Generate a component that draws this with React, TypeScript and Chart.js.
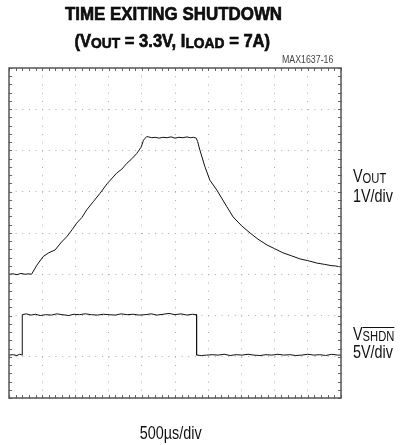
import React, { useEffect, useRef } from "react";
import { Chart, registerables } from "chart.js";

Chart.register(...registerables);

// ---- scope settings ----
const US_PER_DIV = 500;
const X_DIVS = 10;
const Y_DIVS = 8;
const VOUT_V_PER_DIV = 1;
const VOUT_OFFSET_DIV = 3;
const SHDN_V_PER_DIV = 5;
const SHDN_OFFSET_DIV = 1;

// ---- VOUT trace (time in µs, volts) ----
const voutTimeUs = [
  0, 60, 120, 180, 240, 300, 340, 420, 515, 600, 695, 790, 870, 950, 1020, 1100, 1170, 1270,
  1370, 1480, 1620, 1700, 1775, 1850, 1925, 1990, 2025, 2075, 2100, 2150, 2200, 2260, 2320,
  2380, 2440, 2500, 2560, 2620, 2680, 2730, 2780, 2820, 2840, 2875, 2950, 3025, 3130, 3280,
  3375, 3500, 3630, 3750, 3885, 4000, 4125, 4250, 4385, 4500, 4640, 4750, 4850, 4920, 4985, 5000,
];
const voutVolts = [
  0.0, 0.01, -0.01, 0.02, 0.0, 0.01, 0.0, 0.22, 0.43, 0.52, 0.59, 0.78, 0.91, 1.08, 1.24, 1.38,
  1.56, 1.76, 1.96, 2.2, 2.45, 2.55, 2.69, 2.8, 2.93, 3.08, 3.25, 3.34, 3.33, 3.31, 3.32, 3.3,
  3.32, 3.31, 3.33, 3.3, 3.32, 3.31, 3.33, 3.31, 3.32, 3.3, 3.22, 3.01, 2.61, 2.28, 2.04, 1.64,
  1.39, 1.18, 1.0, 0.85, 0.71, 0.62, 0.52, 0.45, 0.37, 0.33, 0.27, 0.24, 0.21, 0.2, 0.18, 0.18,
];

// ---- SHDN trace (time in µs, volts) ----
const shdnTimeUs = [
  0, 60, 120, 160, 200, 200, 260, 330, 400, 470, 550, 640, 720, 800, 900, 980, 1060, 1150, 1240,
  1330, 1420, 1510, 1600, 1690, 1780, 1870, 1960, 2050, 2140, 2230, 2320, 2410, 2500, 2590, 2680,
  2760, 2825, 2825, 2900, 2980, 3060, 3150, 3240, 3330, 3420, 3510, 3600, 3690, 3780, 3870, 3960,
  4050, 4140, 4230, 4320, 4410, 4500, 4590, 4680, 4770, 4860, 4950, 5000,
];
const shdnVolts = [
  0.2, 0.25, 0.15, 0.3, 0.2, 5.1, 5.2, 5.05, 5.15, 5.0, 5.1, 5.05, 5.2, 5.1, 5.0, 5.15, 5.1, 5.2,
  5.1, 5.05, 5.15, 5.1, 5.05, 5.2, 5.1, 5.15, 5.05, 5.1, 5.2, 5.05, 5.15, 5.25, 5.1, 5.2, 5.05,
  5.15, 5.1, 0.2, 0.15, 0.2, 0.25, 0.2, 0.3, 0.15, 0.25, 0.2, 0.3, 0.2, 0.15, 0.25, 0.2, 0.3, 0.2,
  0.25, 0.15, 0.2, 0.3, 0.2, 0.25, 0.15, 0.3, 0.2, 0.2,
];

const FONT = '"Liberation Sans", Arial, sans-serif';

const framePlugin = {
  id: "scopeFrame",
  afterDatasetsDraw(chart: any) {
    const { ctx, chartArea: a, scales } = chart;
    const xs = scales.x;
    const ys = scales.y;
    ctx.save();
    ctx.strokeStyle = "#666";
    ctx.lineWidth = 1;
    ctx.beginPath();
    const tick = 3;
    for (let t = 0; t <= X_DIVS * US_PER_DIV; t += US_PER_DIV / 5) {
      const px = Math.round(xs.getPixelForValue(t)) + 0.5;
      ctx.moveTo(px, a.top);
      ctx.lineTo(px, a.top + tick);
      ctx.moveTo(px, a.bottom);
      ctx.lineTo(px, a.bottom - tick);
    }
    for (let d = 0; d <= Y_DIVS + 0.001; d += 0.2) {
      const py = Math.round(ys.getPixelForValue(d)) + 0.5;
      ctx.moveTo(a.left, py);
      ctx.lineTo(a.left + tick, py);
      ctx.moveTo(a.right, py);
      ctx.lineTo(a.right - tick, py);
    }
    ctx.stroke();
    ctx.lineWidth = 1.5;
    ctx.strokeStyle = "#555";
    ctx.strokeRect(a.left, a.top, a.width, a.height);
    ctx.restore();
  },
};

export default function App() {
  const ref = useRef<HTMLCanvasElement | null>(null);

  useEffect(() => {
    if (!ref.current) return;
    const voutData = voutTimeUs.map((t, i) => ({
      x: t,
      y: VOUT_OFFSET_DIV + voutVolts[i] / VOUT_V_PER_DIV,
    }));
    const shdnData = shdnTimeUs.map((t, i) => ({
      x: t,
      y: SHDN_OFFSET_DIV + shdnVolts[i] / SHDN_V_PER_DIV,
    }));
    const chart = new Chart(ref.current, {
      type: "line",
      data: {
        datasets: [
          { label: "VOUT", data: voutData, borderColor: "#111", borderWidth: 1, pointRadius: 0, tension: 0 },
          { label: "VSHDN", data: shdnData, borderColor: "#111", borderWidth: 1, pointRadius: 0, tension: 0 },
        ],
      },
      options: {
        responsive: false,
        animation: false,
        devicePixelRatio: 1,
        layout: { padding: { left: 9, top: 68, right: 60, bottom: 47 } },
        plugins: { legend: { display: false }, tooltip: { enabled: false }, title: { display: false } },
        scales: {
          x: {
            type: "linear",
            min: 0,
            max: X_DIVS * US_PER_DIV,
            ticks: { display: false, stepSize: US_PER_DIV },
            grid: { color: "#aaa", lineWidth: 1, drawTicks: false },
            border: { display: false, dash: [1, 7.25] },
          },
          y: {
            type: "linear",
            min: 0,
            max: Y_DIVS,
            ticks: { display: false, stepSize: 1 },
            grid: { color: "#aaa", lineWidth: 1, drawTicks: false },
            border: { display: false, dash: [1, 5.64] },
          },
        },
      },
      plugins: [framePlugin],
    });
    return () => chart.destroy();
  }, []);

  const abs = (s: React.CSSProperties): React.CSSProperties => ({
    position: "absolute",
    fontFamily: FONT,
    lineHeight: 1,
    whiteSpace: "nowrap",
    color: "#111",
    ...s,
  });
  const narrow = (k: number, origin: string): React.CSSProperties => ({
    display: "inline-block",
    transform: `scaleX(${k})`,
    transformOrigin: origin,
  });
  const heavy: React.CSSProperties = { WebkitTextStroke: "0.6px #000" } as React.CSSProperties;

  return (
    <div style={{ position: "absolute", left: 0, top: 0, width: 401, height: 445, background: "#fff" }}>
      <canvas ref={ref} width={401} height={445} style={{ position: "absolute", left: 0, top: 0 }} />
      <div style={abs({ left: 0, width: 347, top: 5, textAlign: "center", fontWeight: "bold", fontSize: 18, ...heavy })}>
        <span style={narrow(0.94, "center")}>TIME EXITING SHUTDOWN</span>
      </div>
      <div style={abs({ left: 0, width: 345, top: 32, textAlign: "center", fontWeight: "bold", fontSize: 18, ...heavy })}>
        <span style={narrow(0.92, "center")}>
          (V<span style={{ fontSize: 15, position: "relative", top: 1 }}>OUT</span> = 3.3V, I
          <span style={{ fontSize: 15, position: "relative", top: 1 }}>LOAD</span> = 7A)
        </span>
      </div>
      <div style={abs({ left: 282, top: 55, fontSize: 10, color: "#444" })}>
        <span style={narrow(0.88, "left")}>MAX1637-16</span>
      </div>
      <div style={abs({ left: 353, top: 167, fontSize: 18 })}>
        <span style={narrow(0.8, "left")}>
          V<span style={{ fontSize: 14, position: "relative", top: 1 }}>OUT</span>
        </span>
      </div>
      <div style={abs({ left: 353, top: 187, fontSize: 18 })}>
        <span style={narrow(0.8, "left")}>1V/div</span>
      </div>
      <div style={abs({ left: 353, top: 325, fontSize: 18 })}>
        <span style={narrow(0.8, "left")}>
          V<span style={{ fontSize: 14, position: "relative", top: 1, textDecoration: "overline" }}>SHDN</span>
        </span>
      </div>
      <div style={abs({ left: 353, top: 343, fontSize: 18 })}>
        <span style={narrow(0.8, "left")}>5V/div</span>
      </div>
      <div style={abs({ left: 0, width: 342, top: 424, textAlign: "center", fontSize: 18 })}>
        <span style={narrow(0.8, "center")}>500µs/div</span>
      </div>
    </div>
  );
}
